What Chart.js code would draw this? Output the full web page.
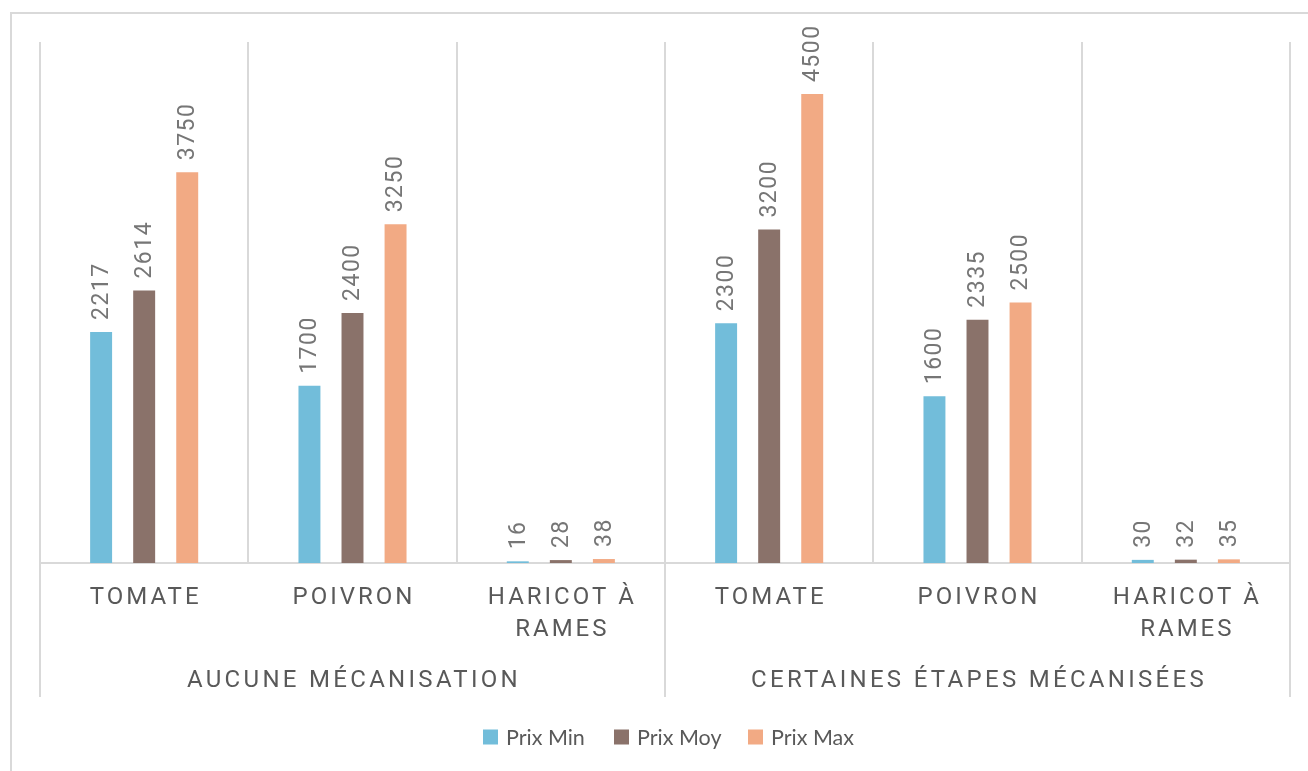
<!DOCTYPE html>
<html><head><meta charset="utf-8">
<script src="https://cdn.jsdelivr.net/npm/chart.js@4"></script>
<style>html,body{margin:0;padding:0;background:#fff;} #wrap{position:relative;width:1308px;height:771px;}</style>
</head><body><div id="wrap"><canvas id="c" width="1308" height="771"></canvas></div>
<script>
const categories = ['TOMATE','POIVRON',['HARICOT À','RAMES'],'TOMATE','POIVRON',['HARICOT À','RAMES']];
const groups = ['AUCUNE MÉCANISATION','CERTAINES ÉTAPES MÉCANISÉES'];
const prixMin = [2217,1700,16,2300,1600,30];
const prixMoy = [2614,2400,28,3200,2335,32];
const prixMax = [3750,3250,38,4500,2500,35];
const seriesNames = ['Prix Min','Prix Moy','Prix Max'];
const colors = ['#72BDDA','#8A726A','#F2AA84'];
const LINE = '#d9d9d9';

const decor = {
  id: 'decor',
  beforeDraw(chart){
    const ctx = chart.ctx;
    ctx.save();
    ctx.strokeStyle = LINE; ctx.lineWidth = 2;
    ctx.beginPath();
    ctx.moveTo(11, 800); ctx.lineTo(11, 13); ctx.lineTo(1320, 13);
    ctx.stroke();
    ctx.restore();
  },
  afterDraw(chart){
    const ctx = chart.ctx;
    const x = chart.scales.x;
    const area = chart.chartArea;
    ctx.save();
    const seps = [area.left, (x.getPixelForValue(2) + x.getPixelForValue(3)) / 2, area.right];
    ctx.strokeStyle = LINE; ctx.lineWidth = 2;
    seps.forEach(sx => {
      const px = Math.round(sx);
      ctx.beginPath(); ctx.moveTo(px, area.bottom); ctx.lineTo(px, 697); ctx.stroke();
    });
    // data labels
    ctx.fillStyle = '#767676';
    ctx.font = '23px Roboto';
    ctx.letterSpacing = '1.5px';
    ctx.textAlign = 'left'; ctx.textBaseline = 'middle';
    chart.data.datasets.forEach((ds, di) => {
      const meta = chart.getDatasetMeta(di);
      meta.data.forEach((el, i) => {
        ctx.save();
        ctx.translate(el.x + 1, el.y - 12);
        ctx.rotate(-Math.PI / 2);
        ctx.fillText(String(ds.data[i]), 0, 0);
        ctx.restore();
      });
    });
    // category labels
    ctx.fillStyle = '#595959';
    ctx.font = '24px Roboto';
    ctx.letterSpacing = '3px';
    ctx.textAlign = 'center';
    categories.forEach((c, i) => {
      const cx = x.getPixelForValue(i) + 1.5;
      const lines = Array.isArray(c) ? c : [c];
      lines.forEach((t, li) => ctx.fillText(t, cx, 598 + li * 32));
    });
    // group labels
    ctx.letterSpacing = '3.3px';
    groups.forEach((g, gi) => {
      const cx = (seps[gi] + seps[gi + 1]) / 2 + 1.5;
      ctx.fillText(g, cx, 681);
    });
    // legend
    ctx.letterSpacing = '0px';
    ctx.font = '21.5px Lato';
    ctx.textAlign = 'left';
    const box = 15, gapTxt = 8;
    const boxX = [483, 614, 748];
    const ly = 737;
    seriesNames.forEach((n, i) => {
      ctx.fillStyle = colors[i];
      ctx.fillRect(boxX[i], ly - box / 2, box, box);
      ctx.fillStyle = '#595959';
      ctx.fillText(n, boxX[i] + box + gapTxt, ly + 1);
    });
    ctx.restore();
  }
};

new Chart(document.getElementById('c'), {
  type: 'bar',
  data: {
    labels: categories,
    datasets: [
      { label: seriesNames[0], data: prixMin, backgroundColor: colors[0] },
      { label: seriesNames[1], data: prixMoy, backgroundColor: colors[1] },
      { label: seriesNames[2], data: prixMax, backgroundColor: colors[2] }
    ]
  },
  options: {
    responsive: false,
    animation: false,
    devicePixelRatio: 1,
    categoryPercentage: 0.62,
    barPercentage: 0.51,
    layout: { padding: { left: 40, right: 18, top: 42, bottom: 0 } },
    plugins: { legend: { display: false }, tooltip: { enabled: false } },
    scales: {
      x: {
        offset: true,
        grid: { display: true, color: LINE, lineWidth: 2, drawTicks: false, offset: true },
        border: { display: true, color: LINE, width: 2 },
        ticks: { display: false },
        afterFit(axis) { axis.height = 208; }
      },
      y: { display: false, min: 0, max: 5000 }
    }
  },
  plugins: [decor]
});
</script>
</body></html>
